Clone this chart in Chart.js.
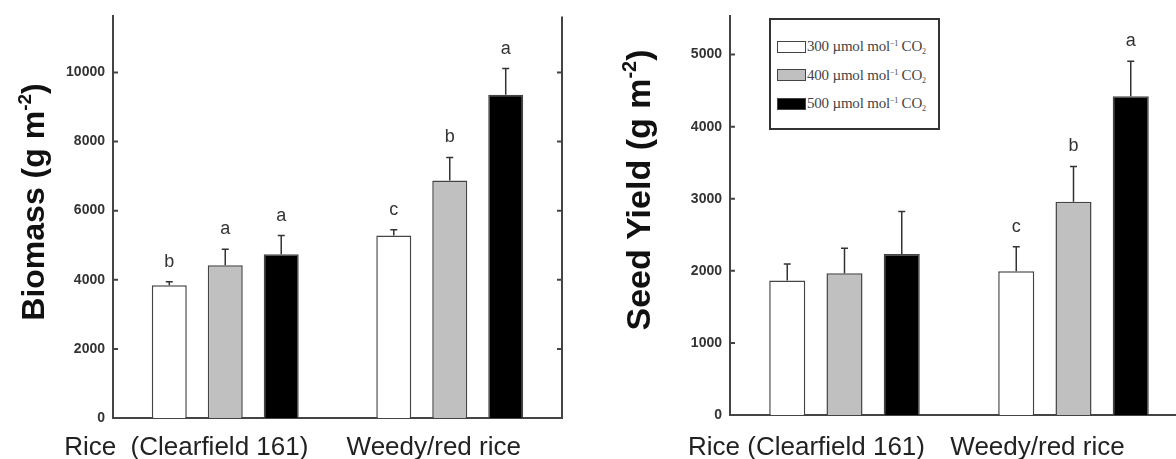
<!DOCTYPE html>
<html lang="en">
<head>
    <meta charset="UTF-8">
    <title>Biomass and Seed Yield under CO2</title>
    <script src="https://cdn.jsdelivr.net/npm/chart.js@4.4.0/dist/chart.umd.min.js"></script>
    <style>
        body {
            margin: 0;
            background: #fff;
            width: 1176px;
            height: 459px;
            overflow: hidden;
            position: relative;
        }
        canvas { position: absolute; top: 0; }
        #biomassChart { left: 0; }
        #seedChart { left: 580px; }
        .legend {
            position: absolute;
            left: 769px;
            top: 18px;
            width: 167px;
            height: 108px;
            border: 2px solid #333;
            background: #fff;
            font-family: "Liberation Serif", serif;
            font-size: 15px;
            color: #444;
        }
        .legend-row {
            position: absolute;
            left: 6px;
            height: 13px;
            display: flex;
            align-items: center;
            white-space: nowrap;
        }
        .swatch {
            width: 27px;
            height: 10px;
            border: 1.5px solid #444;
            margin-right: 1px;
        }
        .legend-text { line-height: 13px; letter-spacing: -0.2px; }
        .legend sup { font-size: 8px; vertical-align: 5px; line-height: 0; }
        .legend sub { font-size: 8px; vertical-align: -3px; line-height: 0; }
    </style>
</head>
<body>
    <canvas id="biomassChart" width="580" height="459"></canvas>
    <canvas id="seedChart" width="620" height="459"></canvas>
    <div class="legend" id="legend"></div>

    <script>
        // Data
        const biomassCategories = ['Rice  (Clearfield 161)', 'Weedy/red rice'];
        const seedCategories = ['Rice (Clearfield 161)', 'Weedy/red rice'];
        const co2Levels = ['300', '400', '500'];
        const fills = ['#ffffff', '#c0c0c0', '#000000'];

        const biomass300 = [3840, 5280];
        const biomass400 = [4420, 6870];
        const biomass500 = [4740, 9350];
        const biomass300Err = [100, 170];
        const biomass400Err = [460, 670];
        const biomass500Err = [540, 760];
        const biomassLetters300 = ['b', 'c'];
        const biomassLetters400 = ['a', 'b'];
        const biomassLetters500 = ['a', 'a'];

        const seed300 = [1865, 1995];
        const seed400 = [1965, 2958];
        const seed500 = [2235, 4423];
        const seed300Err = [230, 340];
        const seed400Err = [350, 490];
        const seed500Err = [590, 485];
        const seedLetters300 = ['', 'c'];
        const seedLetters400 = ['', 'b'];
        const seedLetters500 = ['', 'a'];

        const biomassTicks = [0, 2000, 4000, 6000, 8000, 10000];
        const seedTicks = [0, 1000, 2000, 3000, 4000, 5000];

        const axisColor = '#444';
        const sansFont = '"Liberation Sans", Arial, sans-serif';

        // Legend (HTML, inside the seed yield panel)
        document.getElementById('legend').innerHTML = co2Levels.map((lvl, i) =>
            `<div class="legend-row" style="top:${20 + i * 28.5}px">` +
            `<div class="swatch" style="background:${fills[i]}"></div>` +
            `<span class="legend-text">${lvl} µmol mol<sup>−1</sup> CO<sub>2</sub></span></div>`
        ).join('');

        // error bars, significance letters, category labels, inward ticks, right axis, y title
        const decorPlugin = {
            id: 'decor',
            afterDatasetsDraw(chart) {
                const ctx = chart.ctx;
                const y = chart.scales.y;
                chart.data.datasets.forEach((ds, di) => {
                    chart.getDatasetMeta(di).data.forEach((bar, i) => {
                        const top = y.getPixelForValue(ds.data[i] + ds.errors[i]);
                        ctx.save();
                        ctx.strokeStyle = '#333';
                        ctx.lineWidth = 1.5;
                        ctx.beginPath();
                        ctx.moveTo(bar.x, bar.y);
                        ctx.lineTo(bar.x, top);
                        ctx.moveTo(bar.x - 3.5, top);
                        ctx.lineTo(bar.x + 3.5, top);
                        ctx.stroke();
                        if (ds.letters[i]) {
                            ctx.fillStyle = '#333';
                            ctx.font = '18px ' + sansFont;
                            ctx.textAlign = 'center';
                            ctx.textBaseline = 'alphabetic';
                            ctx.fillText(ds.letters[i], bar.x, top - 15);
                        }
                        ctx.restore();
                    });
                });
            },
            afterDraw(chart, args, opts) {
                const ctx = chart.ctx;
                const area = chart.chartArea;
                const x = chart.scales.x;
                const y = chart.scales.y;
                ctx.save();
                ctx.strokeStyle = axisColor;
                ctx.lineWidth = 2;
                ctx.beginPath();
                ctx.moveTo(area.right, area.top);
                ctx.lineTo(area.right, area.bottom);
                y.ticks.forEach(t => {
                    const py = y.getPixelForValue(t.value);
                    ctx.moveTo(area.left, py);
                    ctx.lineTo(area.left + 5, py);
                    ctx.moveTo(area.right - 5, py);
                    ctx.lineTo(area.right, py);
                });
                ctx.stroke();

                // category labels, shifted left like the original figure
                ctx.fillStyle = '#222';
                ctx.font = '26px ' + sansFont;
                ctx.textAlign = 'center';
                ctx.textBaseline = 'alphabetic';
                chart.data.labels.forEach((lab, i) => {
                    ctx.fillText(lab, x.getPixelForValue(i) + opts.labelShift[i], opts.labelBaseline);
                });

                // rotated title with superscript
                const t = opts.title;
                const big = `bold ${t.size}px ${sansFont}`;
                const small = `bold ${Math.round(t.size * 0.6)}px ${sansFont}`;
                ctx.font = big;
                const w1 = ctx.measureText(t.main).width;
                const w3 = ctx.measureText(')').width;
                ctx.font = small;
                const w2 = ctx.measureText(t.sup).width;
                const total = w1 + w2 + w3;
                ctx.translate(t.x, t.cy);
                ctx.rotate(-Math.PI / 2);
                ctx.fillStyle = '#111';
                ctx.textAlign = 'left';
                let px = -total / 2;
                ctx.font = big;
                ctx.fillText(t.main, px, 0);
                px += w1;
                ctx.font = small;
                ctx.fillText(t.sup, px, -t.size * 0.42);
                px += w2;
                ctx.font = big;
                ctx.fillText(')', px, 0);
                ctx.restore();
            }
        };

        function makeDatasets(values, errors, letters, catPct, barPct) {
            return values.map((v, i) => ({
                label: co2Levels[i],
                data: v,
                errors: errors[i],
                letters: letters[i],
                backgroundColor: fills[i],
                borderColor: axisColor,
                borderWidth: 1.5,
                categoryPercentage: catPct,
                barPercentage: barPct
            }));
        }

        function makeChart(id, cfg) {
            return new Chart(document.getElementById(id), {
                type: 'bar',
                data: {
                    labels: cfg.labels,
                    datasets: makeDatasets(cfg.values, cfg.errors, cfg.letters, cfg.catPct, cfg.barPct)
                },
                plugins: [decorPlugin],
                options: {
                    responsive: false,
                    animation: false,
                    layout: { padding: { top: 15, right: cfg.padRight, left: 0, bottom: 0 } },
                    plugins: {
                        legend: { display: false },
                        tooltip: { enabled: false },
                        decor: { title: cfg.title, labelShift: cfg.labelShift, labelBaseline: 455 }
                    },
                    scales: {
                        x: {
                            grid: { display: false, drawTicks: false },
                            border: { display: true, color: axisColor, width: 2 },
                            ticks: { display: false },
                            afterFit(scale) { scale.height = cfg.xHeight; }
                        },
                        y: {
                            min: 0,
                            max: cfg.max,
                            grid: { display: false, drawTicks: false },
                            border: { display: true, color: axisColor, width: 2 },
                            ticks: {
                                stepSize: cfg.ticks[1] - cfg.ticks[0],
                                color: '#333',
                                padding: 8,
                                font: { family: sansFont, size: 14, weight: 'bold' },
                                callback: v => String(v)
                            },
                            afterBuildTicks(scale) {
                                scale.ticks = cfg.ticks.map(v => ({ value: v }));
                            },
                            afterFit(scale) { scale.width = cfg.yWidth; }
                        }
                    }
                }
            });
        }

        makeChart('biomassChart', {
            labels: biomassCategories,
            values: [biomass300, biomass400, biomass500],
            errors: [biomass300Err, biomass400Err, biomass500Err],
            letters: [biomassLetters300, biomassLetters400, biomassLetters500],
            ticks: biomassTicks,
            max: 11620,
            catPct: 0.748,
            barPct: 0.625,
            yWidth: 113,
            xHeight: 41,
            padRight: 18,
            labelShift: [-39, -16],
            title: { main: 'Biomass (g m', sup: '-2', size: 32, x: 44, cy: 202 }
        });

        makeChart('seedChart', {
            labels: seedCategories,
            values: [seed300, seed400, seed500],
            errors: [seed300Err, seed400Err, seed500Err],
            letters: [seedLetters300, seedLetters400, seedLetters500],
            ticks: seedTicks,
            max: 5530,
            catPct: 0.75,
            barPct: 0.63,
            yWidth: 150,
            xHeight: 44,
            padRight: 12,
            labelShift: [-38, -36],
            title: { main: 'Seed Yield (g m', sup: '-2', size: 34, x: 70, cy: 190 }
        });
    </script>
</body>
</html>
